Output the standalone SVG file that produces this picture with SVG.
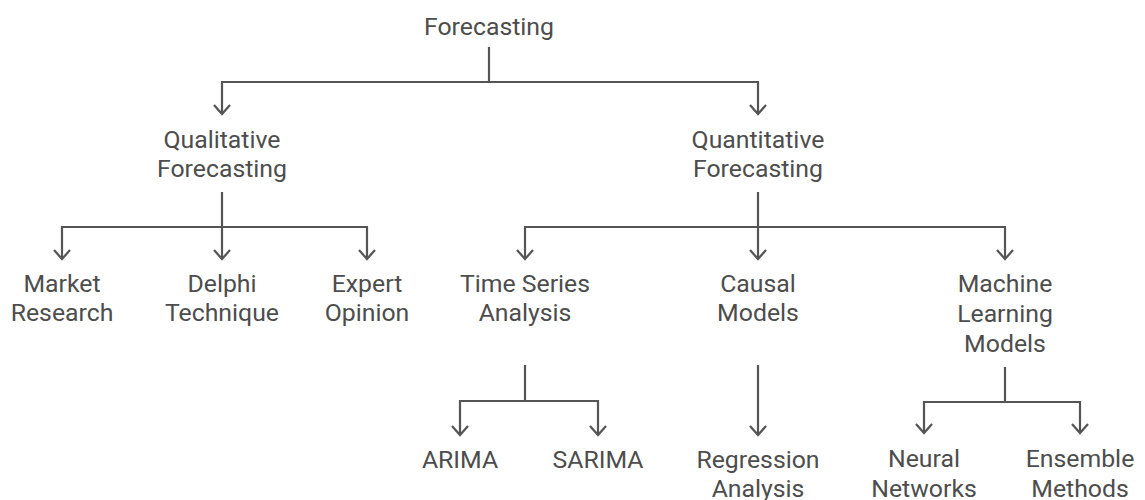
<svg xmlns="http://www.w3.org/2000/svg" width="1145" height="500" viewBox="0 0 1145 500">
<style>
text{font-family:Roboto,"Liberation Sans",sans-serif;font-size:24.8px;fill:#4d4d4d;text-anchor:middle}
.c{fill:none;stroke:#555;stroke-width:2.2}
</style>
<defs>
<marker id="a" markerUnits="userSpaceOnUse" viewBox="-12 -12 24 24" markerWidth="24" markerHeight="24" refX="0" refY="0" orient="auto" overflow="visible">
<path d="M-9,-8 L0,0 L-9,8" fill="none" stroke="#555" stroke-width="2.2"/>
</marker>
</defs>
<rect width="1145" height="500" fill="#fff"/>
<g id="connectors">
<path class="c" d="M489,47 V82"/>
<path class="c" d="M489,82 H222 V114" marker-end="url(#a)"/>
<path class="c" d="M489,82 H758 V114" marker-end="url(#a)"/>
<path class="c" d="M222,192 V227"/>
<path class="c" d="M222,227 H62 V259" marker-end="url(#a)"/>
<path class="c" d="M222,227 V259" marker-end="url(#a)"/>
<path class="c" d="M222,227 H367 V259" marker-end="url(#a)"/>
<path class="c" d="M758,192 V227"/>
<path class="c" d="M758,227 H525 V259" marker-end="url(#a)"/>
<path class="c" d="M758,227 V259" marker-end="url(#a)"/>
<path class="c" d="M758,227 H1005 V259" marker-end="url(#a)"/>
<path class="c" d="M525,365 V401"/>
<path class="c" d="M525,401 H460 V435" marker-end="url(#a)"/>
<path class="c" d="M525,401 H598 V435" marker-end="url(#a)"/>
<path class="c" d="M758,365 V435" marker-end="url(#a)"/>
<path class="c" d="M1005,367 V402"/>
<path class="c" d="M1005,402 H924 V433" marker-end="url(#a)"/>
<path class="c" d="M1005,402 H1080 V433" marker-end="url(#a)"/>
</g>
<g id="forecasting"><text x="489" y="35">Forecasting</text></g>
<g id="qualitative"><text x="222" y="148">Qualitative</text><text x="222" y="177">Forecasting</text></g>
<g id="quantitative"><text x="758" y="148">Quantitative</text><text x="758" y="177">Forecasting</text></g>
<g id="market"><text x="62" y="292">Market</text><text x="62" y="321">Research</text></g>
<g id="delphi"><text x="222" y="292">Delphi</text><text x="222" y="321">Technique</text></g>
<g id="expert"><text x="367" y="292">Expert</text><text x="367" y="321">Opinion</text></g>
<g id="timeseries"><text x="525" y="292">Time Series</text><text x="525" y="321">Analysis</text></g>
<g id="causal"><text x="758" y="292">Causal</text><text x="758" y="321">Models</text></g>
<g id="ml"><text x="1005" y="292">Machine</text><text x="1005" y="322">Learning</text><text x="1005" y="352">Models</text></g>
<g id="arima"><text x="460" y="468">ARIMA</text></g>
<g id="sarima"><text x="598" y="468">SARIMA</text></g>
<g id="regression"><text x="758" y="468">Regression</text><text x="758" y="497">Analysis</text></g>
<g id="neural"><text x="924" y="467">Neural</text><text x="924" y="497">Networks</text></g>
<g id="ensemble"><text x="1080" y="467">Ensemble</text><text x="1080" y="497">Methods</text></g>
</svg>
